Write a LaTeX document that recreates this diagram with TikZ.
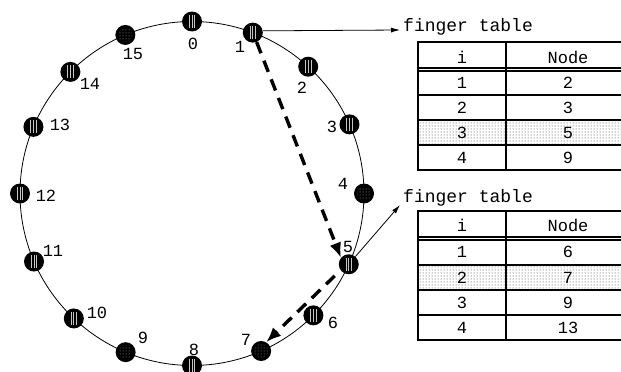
\documentclass[tikz,border=0pt]{standalone}
\usepackage{fontspec}
\newfontfamily\cour{Liberation Mono}
\usetikzlibrary{arrows.meta,patterns}

\begin{document}
\begin{tikzpicture}[x=1pt,y=-1pt,
  ringnode/.style={circle,fill=black,minimum size=20pt,inner sep=0pt},
  striped/.style={ringnode,path picture={
      \foreach \dx in {-2.8,0,2.8}
        \draw[gray!45,line width=0.8pt]
          ([xshift=\dx pt,yshift=-6.5pt]path picture bounding box.center) -- ++(0,13pt);}},
  speckled/.style={ringnode,path picture={
      \fill[pattern=dots,pattern color=gray!70]
        (path picture bounding box.center) circle (7pt);}},
  lbl/.style={font=\cour\fontsize{17}{17}\selectfont,inner sep=0pt},
  ttl/.style={font=\cour\fontsize{18}{18}\selectfont,inner sep=1pt,anchor=west},
  ring/.style={line width=0.8pt},
  tline/.style={line width=1.1pt},
  thin arrow/.style={line width=0.8pt,-{Latex[length=9pt,width=5pt]}},
  hop/.style={line width=3.4pt,dash pattern=on 12pt off 8pt,
    -{Latex[length=15pt,width=12pt]}},
  shade/.style={pattern=dots,pattern color=black!80}
]
\clip (0,0) rectangle (621,372);
\fill[white] (0,0) rectangle (621,372);

% identifier ring
\coordinate (ctr) at (192,193.5);
\draw[ring] (ctr) circle[radius=172pt];

\foreach \k/\a/\s in {0/0/striped,1/20.7/striped,2/42.5/striped,3/66.3/striped,
                      4/90/speckled,5/114.3/striped,6/135.1/striped,7/156.3/speckled,
                      8/180/striped,9/202.7/speckled,10/223.4/striped,11/246.7/striped,
                      12/270/striped,13/292.8/striped,14/315/striped,15/337.2/speckled}
  \node[\s] (n\k) at ({192+172*sin(\a)},{193.5-172*cos(\a)}) {};

% node identifiers
\foreach \k/\px/\py in {0/193/44,1/240/47,2/302/88,3/332/127,4/343/184,
                        5/348/247,6/333/323,7/246/340,8/194/350,9/143/338,
                        10/97/313,11/53/251,12/46/196,13/60/125,14/90/84,15/133/54}
  \node[lbl] (l\k) at (\px,\py) {\k};

% finger table of node 1
\node[ttl] (ft1) at (402,27) {finger table};
\fill[shade] (418,120) rectangle (640,145);
\draw[tline] (640,42) -- (418,42) -- (418,170) -- (640,170);
\draw[tline] (506,42) -- (506,170);
\draw[tline] (418,68) -- (640,68);
\draw[tline] (418,71) -- (640,71);
\foreach \y in {95,120,145} \draw[tline] (418,\y) -- (640,\y);
\node[lbl] (h1i) at (462,57) {i};
\node[lbl] (h1n) at (568,57) {Node};
\foreach \r/\v/\y in {1/2/83,2/3/107.5,3/5/132.5,4/9/157.5} {
  \node[lbl] (a\r) at (462,\y) {\r};
  \node[lbl] (b\r) at (568,\y) {\v};
}

% finger table of node 5
\node[ttl] (ft2) at (402,198) {finger table};
\fill[shade] (418,265) rectangle (640,290);
\draw[tline] (640,211) -- (418,211) -- (418,340) -- (640,340);
\draw[tline] (506,211) -- (506,340);
\draw[tline] (418,237) -- (640,237);
\draw[tline] (418,240) -- (640,240);
\foreach \y in {265,290,315} \draw[tline] (418,\y) -- (640,\y);
\node[lbl] (h2i) at (462,225) {i};
\node[lbl] (h2n) at (568,225) {Node};
\foreach \r/\v/\y in {1/6/252,2/7/277.5,3/9/302.5,4/13/327.5} {
  \node[lbl] (c\r) at (462,\y) {\r};
  \node[lbl] (d\r) at (568,\y) {\v};
}

% pointers to the finger tables
\coordinate (t1) at (400,30);
\coordinate (t2) at (400,205);
\draw[thin arrow] (n1.10) -- (t1);
\draw[thin arrow] (n5) -- (t2);

% lookup hops
\draw[hop] (n1.-68) -- (n5.140);
\draw[hop,shorten <=8pt] (n5.216) -- (n7.60);
\end{tikzpicture}
\end{document}
